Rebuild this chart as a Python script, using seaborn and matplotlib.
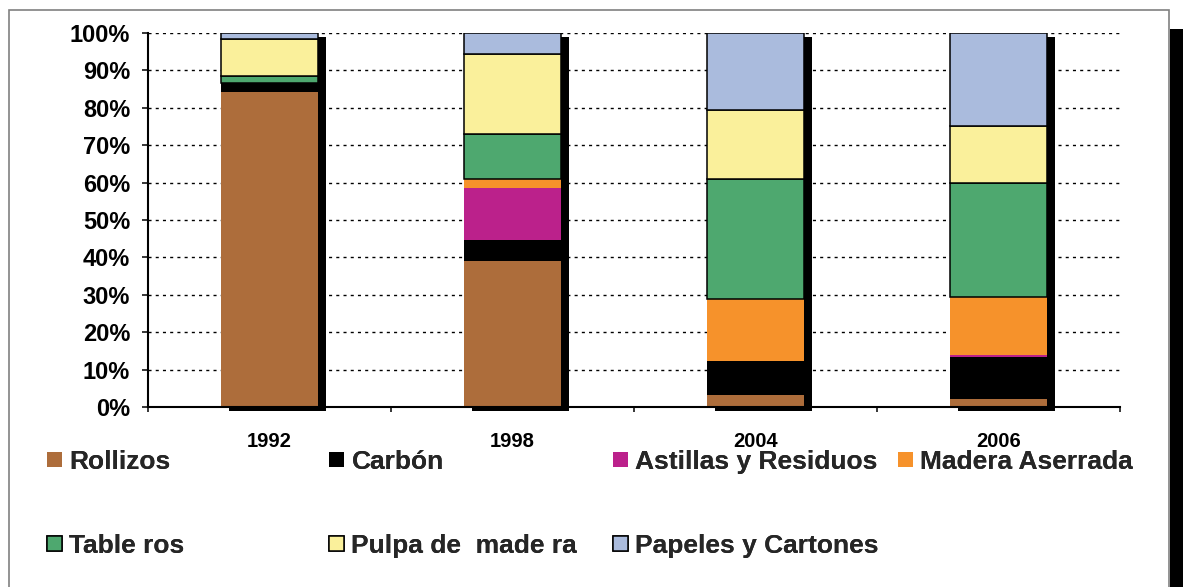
import numpy as np
import matplotlib.pyplot as plt
import seaborn as sns
from matplotlib.patches import Rectangle
from matplotlib.transforms import ScaledTranslation


years = ["1992", "1998", "2004", "2006"]

rollizos = [84.3, 39.0, 3.2, 2.1]
carbon = [2.2, 5.7, 9.2, 11.4]
astillas = [0.0, 13.9, 0.0, 0.4]
madera = [0.0, 2.3, 16.4, 15.6]
tableros = [2.1, 12.1, 32.1, 30.3]
pulpa = [9.9, 21.4, 18.5, 15.3]
papeles = [1.5, 5.6, 20.6, 24.9]

labels = ["Rollizos", "Carbón", "Astillas y Residuos", "Madera Aserrada",
          "Table ros", "Pulpa de  made ra", "Papeles y Cartones"]
colors = ["#AD6D3B", "#000000", "#BB218B", "#F6922B",
          "#4EA86F", "#FAF09B", "#AABBDD"]
edged = [False, False, False, False, True, True, True]
series = [rollizos, carbon, astillas, madera, tableros, pulpa, papeles]

W, H = 1183, 587

sns.set_style("white")
plt.rcParams["font.family"] = ["Liberation Sans", "DejaVu Sans"]
plt.rcParams["font.weight"] = "bold"

fig = plt.figure(figsize=(W / 100, H / 100), dpi=100)
ax = fig.add_axes([148 / W, 1 - 407 / H, (1120 - 148) / W, (407 - 33) / H])

# drop shadow behind each bar
sns.barplot(x=years, y=[100] * len(years), order=years, color="black",
            saturation=1, width=0.4, linewidth=0, ax=ax)
off = ScaledTranslation(8 / 100, -4 / 100, fig.dpi_scale_trans)
for p in ax.patches:
    p.set_transform(ax.transData + off)
    p.set_clip_on(False)

# stacked 100% bars
bottom = np.zeros(len(years))
handles = []
for name, vals, col, edge in zip(labels, series, colors, edged):
    vals = np.array(vals, dtype=float)
    sns.barplot(x=years, y=vals, order=years, color=col, saturation=1,
                width=0.4, bottom=bottom.copy(),
                edgecolor="black" if edge else "none",
                linewidth=1.1 if edge else 0, ax=ax)
    handles.append(ax.containers[-1].patches[0])
    bottom += vals

ax.set_xlim(-0.5, 3.49)
ax.set_ylim(0, 100)
ax.set_yticks(range(0, 101, 10))
ax.set_yticklabels([f"{v}%" for v in range(0, 101, 10)])
ax.set_xticks(range(len(years)))
ax.set_xticklabels(years)
ax.set_xticks([-0.5, 0.5, 1.5, 2.5, 3.5], minor=True)
ax.set_xlabel("")
ax.set_ylabel("")

ax.yaxis.grid(True, color="black", linestyle=(0, (2.2, 3)), linewidth=1)
ax.xaxis.grid(False)
ax.set_axisbelow(True)
sns.despine(ax=ax, top=True, right=True)
for s in ["left", "bottom"]:
    ax.spines[s].set_color("black")
    ax.spines[s].set_linewidth(1.5)

ax.tick_params(axis="y", left=True, length=4.3, width=1.1, pad=8.5,
               labelsize=17, colors="black")
ax.tick_params(axis="x", which="major", bottom=True, length=0, pad=18,
               labelsize=14.5, colors="black")
ax.tick_params(axis="x", which="minor", bottom=True, length=3.5, width=1.1,
               colors="black")

# legend laid out on Excel's fixed grid
spots = [(47, 462), (329, 462), (613, 462), (898, 462),
         (47, 546), (329, 546), (613, 546)]
for h, name, (px, py) in zip(handles, labels, spots):
    leg = fig.legend([h], [name], loc="center left",
                     bbox_to_anchor=(px / W, 1 - py / H), frameon=False,
                     borderpad=0, borderaxespad=0, handlelength=0.55,
                     handleheight=0.5, handletextpad=0.3,
                     prop={"size": 19, "weight": "bold"})
    fig.add_artist(leg)

# chart-area border and its shadow
fig.patches.append(Rectangle((9 / W, -0.1), (1169 - 9) / W, (H - 10) / H + 0.1,
                             transform=fig.transFigure, fill=False,
                             edgecolor="#808080", linewidth=1.2, figure=fig))
fig.patches.append(Rectangle((1170 / W, 0), 13 / W, (H - 29) / H,
                             transform=fig.transFigure, facecolor="black",
                             edgecolor="none", figure=fig))

plt.savefig("out.png", dpi=100)
